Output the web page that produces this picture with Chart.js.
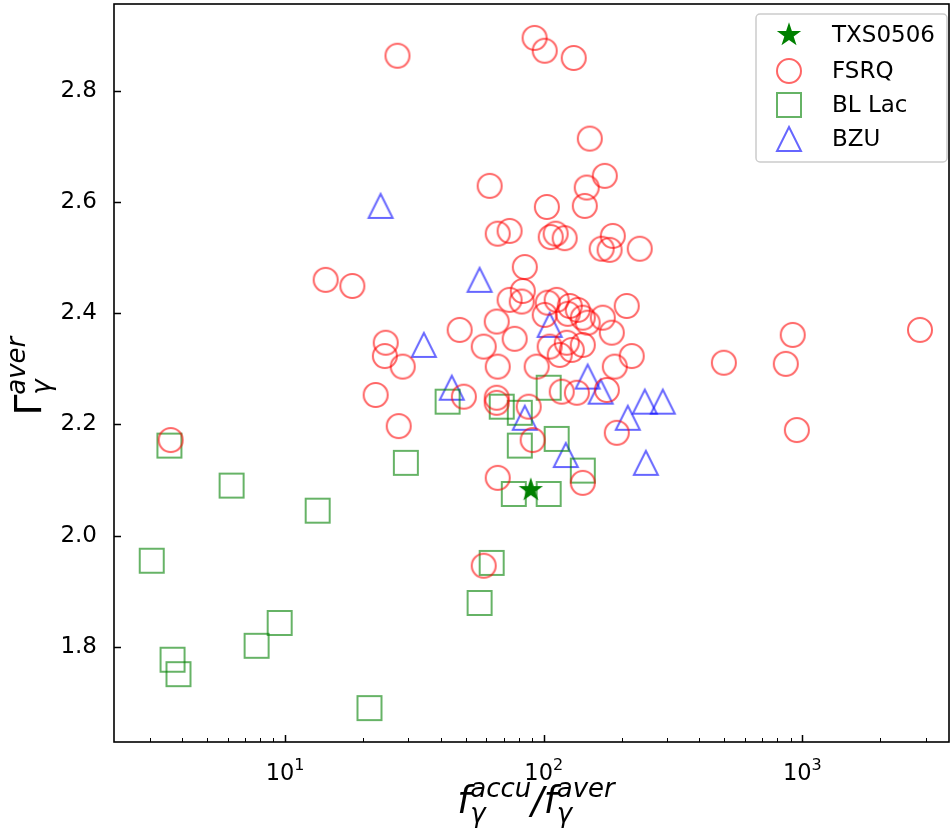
<!DOCTYPE html>
<html>
<head>
<meta charset="utf-8">
<script src="https://cdn.jsdelivr.net/npm/chart.js@4.4.0/dist/chart.umd.min.js"></script>
<style>
html, body { margin: 0; padding: 0; background: #fff; }
</style>
</head>
<body>
<canvas id="scatter" width="950" height="833"></canvas>
<script>
// values
const txsX = [89.1];
const txsY = [2.082];

const fsrqX = [27.2, 92.2, 100.9, 130.6, 150.7, 172.2, 146.6, 144.1, 61.8, 102.8, 66.4, 73.8, 106.4, 111.2, 120.5, 184.9, 167.5, 179.8, 235, 84.5,
    83.0, 73.8, 82.2, 103.6, 112.2, 126.1, 135.4, 123.9, 141.6, 100.9, 169.2, 147.9, 183.3, 209.4, 65.8, 77.2, 58.6, 47.3, 105.4, 115.3,
    122.8, 141.6, 128.4, 218.9, 188.3, 66.4, 93.9, 49.1, 65.8, 65.8, 87.5, 117.4, 134.3, 175.4, 191.6, 90.6, 66.4, 141.6, 14.35, 18.2,
    24.5, 24.3, 28.5, 22.4, 27.5, 3.61, 497, 863, 918, 952, 2850, 58.6];
const fsrqY = [2.863, 2.895, 2.872, 2.859, 2.714, 2.647, 2.626, 2.593, 2.629, 2.591, 2.543, 2.548, 2.537, 2.543, 2.535, 2.539, 2.516, 2.514, 2.516, 2.483,
    2.440, 2.424, 2.421, 2.419, 2.424, 2.413, 2.406, 2.399, 2.392, 2.397, 2.392, 2.383, 2.365, 2.413, 2.385, 2.354, 2.340, 2.370, 2.340, 2.325,
    2.347, 2.343, 2.334, 2.323, 2.304, 2.304, 2.304, 2.250, 2.248, 2.239, 2.232, 2.259, 2.257, 2.262, 2.185, 2.172, 2.104, 2.095, 2.460, 2.449,
    2.347, 2.323, 2.304, 2.253, 2.197, 2.172, 2.311, 2.309, 2.361, 2.190, 2.370, 1.946];

const blLacX = [3.05, 3.57, 3.67, 3.87, 6.21, 7.76, 9.53, 13.36, 21.2, 29.3, 42.5, 56.5, 62.9, 68.8, 80.8, 80.8, 76.6, 104.5, 104.5, 112.2, 141.6];
const blLacY = [1.955, 2.162, 1.777, 1.751, 2.090, 1.802, 1.843, 2.045, 1.690, 2.131, 2.241, 1.879, 1.951, 2.232, 2.221, 2.162, 2.075, 2.075, 2.266, 2.174, 2.117];

const bzuX = [23.4, 56.5, 34.4, 44.1, 84.5, 105.4, 147.9, 166, 211.4, 245.9, 288.7, 248.3, 121.7];
const bzuY = [2.593, 2.460, 2.343, 2.266, 2.212, 2.379, 2.286, 2.259, 2.212, 2.241, 2.241, 2.131, 2.145];

const yTicks = [1.8, 2.0, 2.2, 2.4, 2.6, 2.8];
const xMajor = [10, 100, 1000];
const xMinor = [3, 4, 5, 6, 7, 8, 9, 20, 30, 40, 50, 60, 70, 80, 90, 200, 300, 400, 500, 600, 700, 800, 900, 2000, 3000];
const legendLabels = ['TXS0506', 'FSRQ', 'BL Lac', 'BZU'];

const FONT = '"DejaVu Sans"';

function toPoints(xs, ys) {
    return xs.map((x, i) => ({ x: x, y: ys[i] }));
}

// matplotlib-like markers as little canvases
function marker(kind, color) {
    const c = document.createElement('canvas');
    c.width = 32; c.height = 32;
    const g = c.getContext('2d');
    g.translate(16, 16);
    g.lineWidth = 2;
    g.strokeStyle = color;
    g.fillStyle = color;
    g.beginPath();
    if (kind === 'star') {
        for (let k = 0; k < 10; k++) {
            const r = k % 2 ? 4.9 : 12.8;
            const a = -Math.PI / 2 + k * Math.PI / 5;
            g.lineTo(r * Math.cos(a), r * Math.sin(a));
        }
        g.closePath();
        g.fill();
        return c;
    }
    if (kind === 'circle') g.arc(0, 0, 12, 0, 2 * Math.PI);
    if (kind === 'square') g.rect(-12, -12, 24, 24);
    if (kind === 'triangle') {
        g.moveTo(0, -12); g.lineTo(12, 12); g.lineTo(-12, 12); g.closePath();
    }
    g.stroke();
    return c;
}

const starImg = marker('star', 'rgb(0,128,0)');
const circleImg = marker('circle', 'rgba(255,0,0,0.6)');
const squareImg = marker('square', 'rgba(0,128,0,0.6)');
const triImg = marker('triangle', 'rgba(0,0,255,0.6)');
const legendImgs = [starImg, circleImg, squareImg, triImg];

// draw pieces of math text left to right, returns width
function mathRun(g, x, y, parts, measureOnly) {
    let cx = x;
    for (const p of parts) {
        if (p.stack) {
            let w = 0;
            for (const s of p.stack) {
                g.font = s.font;
                if (!measureOnly) g.fillText(s.t, cx, y + s.dy);
                w = Math.max(w, g.measureText(s.t).width);
            }
            cx += w;
        } else {
            g.font = p.font;
            if (!measureOnly) g.fillText(p.t, cx + (p.dx || 0), y + (p.dy || 0));
            cx += g.measureText(p.t).width + (p.dx || 0);
        }
    }
    return cx - x;
}

const decorPlugin = {
    id: 'decor',
    afterDraw(chart) {
        const g = chart.ctx;
        const a = chart.chartArea;
        const xs = chart.scales.x, ys = chart.scales.y;
        g.save();
        g.strokeStyle = '#000';
        g.fillStyle = '#000';

        // inward ticks
        g.lineWidth = 1.5;
        g.beginPath();
        yTicks.forEach(v => {
            const p = Math.round(ys.getPixelForValue(v)) + 0.5;
            g.moveTo(a.left, p); g.lineTo(a.left + 7, p);
        });
        xMajor.forEach(v => {
            const p = Math.round(xs.getPixelForValue(v)) + 0.5;
            g.moveTo(p, a.bottom); g.lineTo(p, a.bottom - 7);
        });
        g.stroke();
        g.lineWidth = 1;
        g.beginPath();
        xMinor.forEach(v => {
            if (v < xs.min || v > xs.max) return;
            const p = Math.round(xs.getPixelForValue(v)) + 0.5;
            g.moveTo(p, a.bottom); g.lineTo(p, a.bottom - 4);
        });
        g.stroke();

        // frame
        g.lineWidth = 1.6;
        g.strokeRect(a.left, a.top, a.right - a.left, a.bottom - a.top);

        // x tick labels 10^n
        g.textBaseline = 'alphabetic';
        g.textAlign = 'left';
        xMajor.forEach(v => {
            const p = xs.getPixelForValue(v);
            const e = String(Math.round(Math.log10(v)));
            const parts = [{ t: '10', font: '22.5px ' + FONT }, { t: e, font: '16px ' + FONT, dy: -10 }];
            const w = mathRun(g, 0, 0, parts, true);
            mathRun(g, p - w / 2, 780, parts);
        });

        // x title
        const big = 'italic 37px ' + FONT, small = 'italic 26px ' + FONT;
        const xParts = [
            { t: 'f', font: big },
            { stack: [{ t: 'γ', font: small, dy: 9 }, { t: 'accu', font: small, dy: -16 }] },
            { t: '/', font: 'italic 37px ' + FONT },
            { t: 'f', font: big },
            { stack: [{ t: 'γ', font: small, dy: 9 }, { t: 'aver', font: small, dy: -16 }] }
        ];
        const xw = mathRun(g, 0, 0, xParts, true);
        mathRun(g, 536 - xw / 2, 813, xParts);

        // y title, rotated
        const yParts = [
            { t: 'Γ', font: '37px ' + FONT },
            { stack: [{ t: 'γ', font: small, dy: 9 }, { t: 'aver', font: small, dy: -16 }] }
        ];
        const yw = mathRun(g, 0, 0, yParts, true);
        g.translate(41, 376);
        g.rotate(-Math.PI / 2);
        mathRun(g, -yw / 2, 0, yParts);
        g.restore();

        // legend box
        g.save();
        g.beginPath();
        g.roundRect(756, 14, 191, 148, 4);
        g.fillStyle = 'rgba(255,255,255,0.8)';
        g.fill();
        g.strokeStyle = '#cccccc';
        g.lineWidth = 1.5;
        g.stroke();
        const rows = [35, 71, 105, 139];
        g.font = '23px ' + FONT;
        g.fillStyle = '#000';
        g.textBaseline = 'middle';
        legendLabels.forEach((lab, i) => {
            g.drawImage(legendImgs[i], 789 - 16, rows[i] - 16);
            g.fillText(lab, 832, rows[i] + 1);
        });
        g.restore();
    }
};

const ctx = document.getElementById('scatter').getContext('2d');
const scatter = new Chart(ctx, {
    type: 'scatter',
    data: {
        datasets: [
            { label: legendLabels[0], data: toPoints(txsX, txsY), pointStyle: starImg, pointRadius: 12 },
            { label: legendLabels[1], data: toPoints(fsrqX, fsrqY), pointStyle: circleImg, pointRadius: 12 },
            { label: legendLabels[2], data: toPoints(blLacX, blLacY), pointStyle: squareImg, pointRadius: 12 },
            { label: legendLabels[3], data: toPoints(bzuX, bzuY), pointStyle: triImg, pointRadius: 12 }
        ]
    },
    options: {
        responsive: false,
        animation: false,
        events: [],
        layout: { autoPadding: false, padding: { top: 4, right: 1, left: 0, bottom: 0 } },
        plugins: {
            legend: { display: false },
            tooltip: { enabled: false }
        },
        scales: {
            x: {
                type: 'logarithmic',
                min: 2.18,
                max: 3690,
                grid: { display: false, drawTicks: false },
                border: { display: false },
                ticks: { display: false },
                afterFit: s => { s.height = 91; s.paddingLeft = 0; s.paddingRight = 0; }
            },
            y: {
                type: 'linear',
                min: 1.629,
                max: 2.956,
                grid: { display: false, drawTicks: false },
                border: { display: false },
                ticks: {
                    color: '#000',
                    padding: 17,
                    font: { family: 'DejaVu Sans', size: 23 },
                    callback: v => v.toFixed(1)
                },
                afterBuildTicks: s => { s.ticks = yTicks.map(v => ({ value: v })); },
                afterFit: s => { s.width = 114; s.paddingTop = 0; s.paddingBottom = 0; }
            }
        }
    },
    plugins: [decorPlugin]
});
</script>
</body>
</html>
